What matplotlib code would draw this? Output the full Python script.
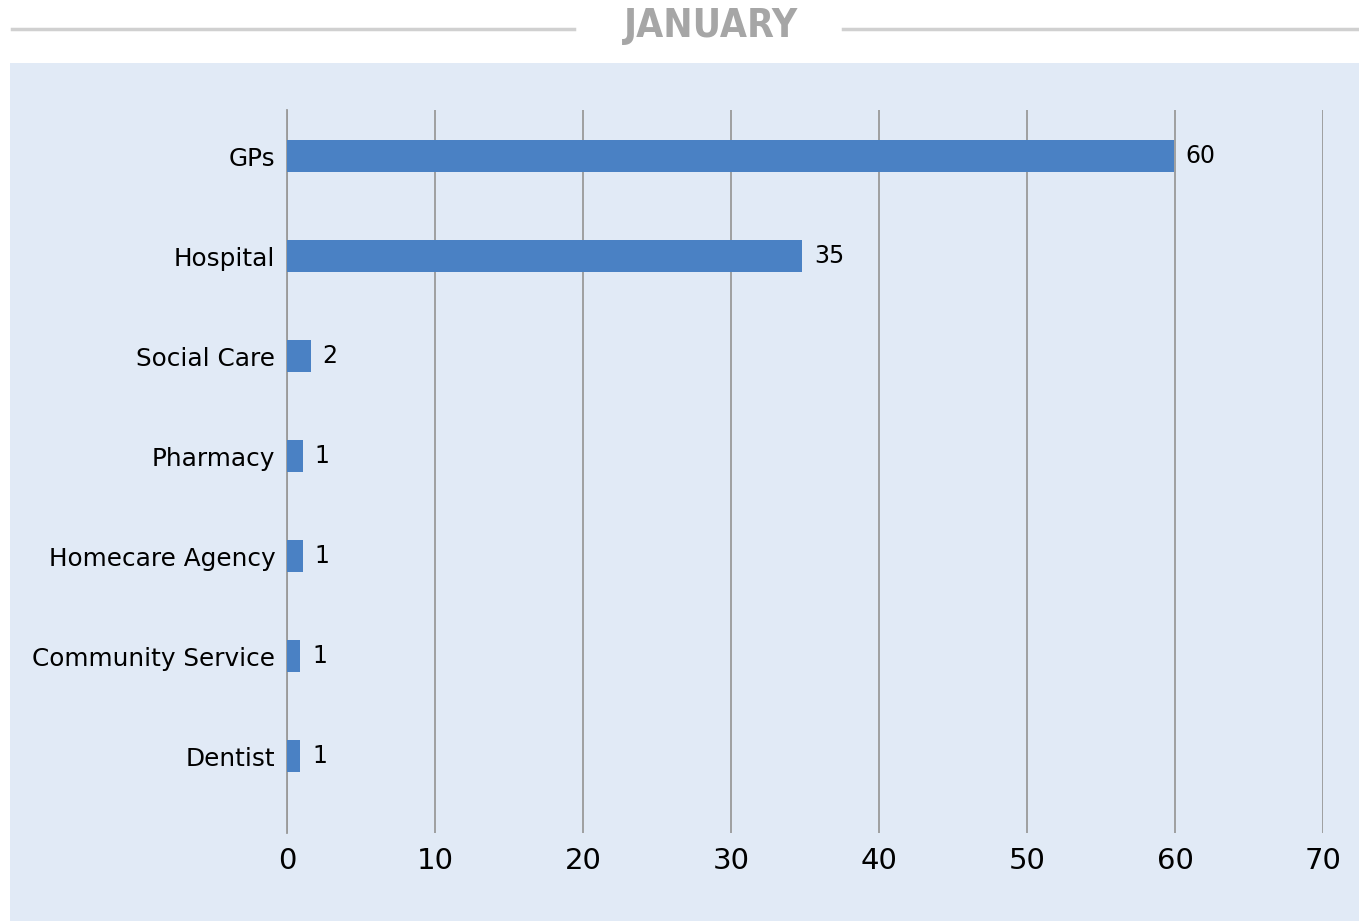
import matplotlib.pyplot as plt
from matplotlib.lines import Line2D

categories = ['GPs', 'Hospital', 'Social Care', 'Pharmacy', 'Homecare Agency',
              'Community Service', 'Dentist']
values = [59.9, 34.8, 1.6, 1.05, 1.05, 0.9, 0.9]
xticks = [0, 10, 20, 30, 40, 50, 60, 70]

bg = '#E1EAF6'
bar_color = '#4A81C4'
grid_color = '#9A9A9A'

fig = plt.figure(figsize=(13.59, 9.21), dpi=100)
fig.patch.set_facecolor('white')

# light blue panel behind the chart
back = fig.add_axes([10 / 1359, 0, 1 - 10 / 1359, 1 - 63 / 921])
back.set_facecolor(bg)
back.set_xticks([])
back.set_yticks([])
for s in back.spines.values():
    s.set_visible(False)

# header with lines on both sides
fig.text(711 / 1359, 1 - 26 / 921, 'JANUARY', ha='center', va='center',
         fontsize=28, fontweight='bold', color='#A6A6A6',
         fontstretch='condensed', family='DejaVu Sans')
y_line = 1 - 29 / 921
fig.add_artist(Line2D([12 / 1359, 574 / 1359], [y_line, y_line],
                      transform=fig.transFigure, color='#D0D0D0', lw=2.5))
fig.add_artist(Line2D([843 / 1359, 1], [y_line, y_line],
                      transform=fig.transFigure, color='#D0D0D0', lw=2.5))

ax = fig.add_axes([287 / 1359, 1 - 833 / 921, (1323 - 287) / 1359,
                   (833 - 110) / 921])
ax.set_facecolor('none')

pos = list(range(len(categories)))
ax.barh(pos, values, height=0.32, color=bar_color, zorder=3)
for p, v in zip(pos, values):
    ax.text(v + 0.8, p, str(int(round(v))), va='center', ha='left',
            fontsize=17, color='black')

ax.set_xlim(0, 70)
ax.set_ylim(6.77, -0.46)
ax.set_xticks(xticks)
ax.set_xticklabels([str(t) for t in xticks], fontsize=21)
ax.set_yticks(pos)
ax.set_yticklabels(categories, fontsize=17.8)
ax.tick_params(axis='both', length=0, colors='black')
ax.tick_params(axis='x', pad=10)
ax.tick_params(axis='y', pad=8.5)
ax.xaxis.grid(True, color=grid_color, lw=1.3, zorder=1)
for s in ['top', 'right', 'bottom']:
    ax.spines[s].set_visible(False)
ax.spines['left'].set_color(grid_color)
ax.spines['left'].set_linewidth(1.3)

plt.savefig('out.png', dpi=100)
